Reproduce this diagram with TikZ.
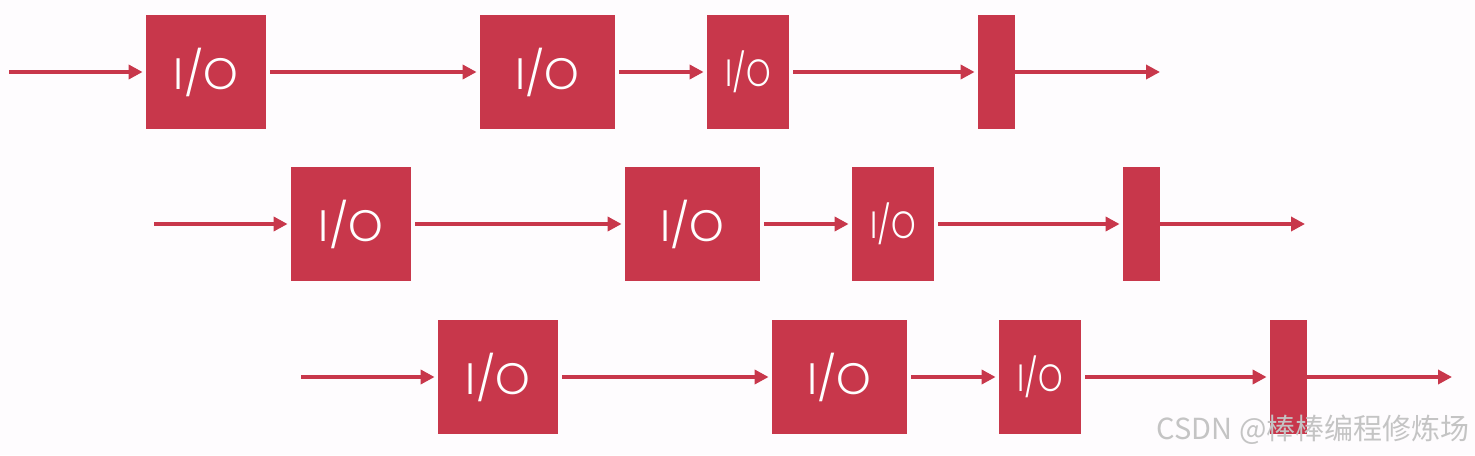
\documentclass[tikz,border=0pt]{standalone}
\usepackage{fontspec}
\setmainfont{Poppins Light}
\newfontfamily\cjk{Noto Sans CJK SC}
\usetikzlibrary{arrows.meta}
\definecolor{iored}{HTML}{C8374B}
\definecolor{bgc}{HTML}{FEFCFE}
\definecolor{wm}{HTML}{C4C4C4}
\tikzset{
  iobox/.style={rectangle, fill=iored, draw=none, inner sep=0pt, text=white, minimum height=57pt},
  bigio/.style={iobox, font=\fontsize{22}{22}\selectfont},
  smallio/.style={iobox, font=\fontsize{19}{19}\selectfont},
  barbox/.style={iobox, minimum width=18.5pt},
  flow/.style={draw=iored, line width=2pt, -{Triangle[length=7pt,width=7pt]}, shorten <=2pt, shorten >=1.5pt},
}
\begin{document}
\begin{tikzpicture}[x=0.5pt,y=-0.5pt]
\fill[bgc] (0,0) rectangle (1475,455);
\useasboundingbox (0,0) rectangle (1475,455);
\foreach \r/\dx/\y in {1/0/72,2/145/224,3/292/377}{
  \coordinate (s\r) at (9+\dx,\y);
  \node[bigio, minimum width=60pt] (a\r) at (206+\dx,\y) {I/O};
  \node[bigio, minimum width=67.5pt] (b\r) at (547.5+\dx,\y) {I/O};
  \node[smallio, minimum width=41pt] (c\r) at (748+\dx,\y) {\scalebox{0.82}[1]{I/O}};
  \node[barbox] (d\r) at (996.5+\dx,\y) {};
  \coordinate (e\r) at (1160+\dx,\y);
  \draw[flow, shorten <=0pt] (s\r) -- (a\r);
  \draw[flow] (a\r) -- (b\r);
  \draw[flow] (b\r) -- (c\r);
  \draw[flow] (c\r) -- (d\r);
  \draw[flow, shorten <=0pt, shorten >=0pt] (d\r) -- (e\r);
}
\node[anchor=east, text=wm, font=\cjk\fontsize{14.5}{14.5}\selectfont, inner sep=0pt] (wm) at (1470,430) {CSDN @棒棒编程修炼场};
\end{tikzpicture}
\end{document}
